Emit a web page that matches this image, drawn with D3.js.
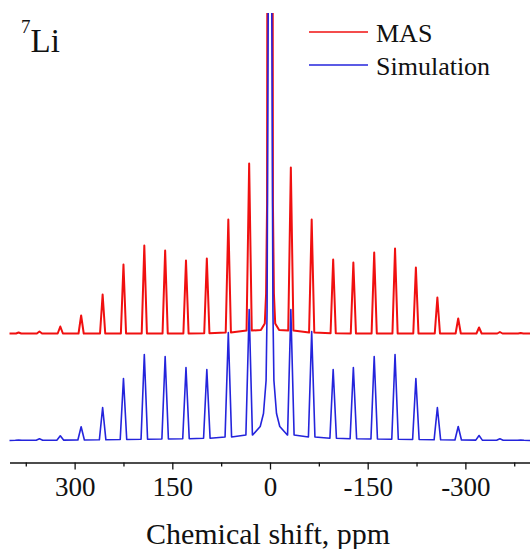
<!DOCTYPE html>
<html>
<head>
<meta charset="utf-8">
<script src="https://cdn.jsdelivr.net/npm/d3@7"></script>
<style>
  body { margin: 0; background: #fff; }
  text { font-family: "Liberation Serif", "Times New Roman", serif; fill: #111; }
</style>
</head>
<body>
<svg id="chart" width="530" height="549"></svg>
<script>
// sideband positions (ppm), centre line handled separately
const shifts = [386, 354, 322, 290, 257, 225, 193, 161, 129, 97, 64, 32,
                -32, -64, -97, -128, -160, -192, -224, -257, -289, -321, -353, -385];
const masPeak = [1, 2, 7, 18, 39, 69, 88, 83, 73, 75, 114, 170,
                 166, 114, 74, 71, 81, 85, 66, 36, 15, 6, 1.5, 0.5];
const masFoot = [0, 0, 0, 0, 0, 0, 0, 0, 0, 0.3, 1, 3,
                 3, 1, 0.3, 0, 0, 0, 0, 0, 0, 0, 0, 0];
const simPeak = [0.5, 1.7, 4.7, 13.7, 33, 62, 86, 84, 73, 71, 108, 131,
                 131, 109, 71, 73, 84, 86, 62, 33, 14, 5, 1.7, 0.5];
const simFoot = [0.2, 0.3, 0.4, 0.5, 0.7, 1, 1.3, 1.5, 1.8, 2.3, 3.5, 5.5,
                 5.5, 3.5, 2.3, 1.8, 1.5, 1.3, 1, 0.7, 0.5, 0.4, 0.3, 0.2];
// centre line (ppm, intensity)
const masCenter = [[14, 3.5], [8, 10], [6, 40], [4.5, 130], [3.5, 700],
                   [-3.5, 700], [-4.5, 130], [-6, 40], [-8, 10], [-14, 3.5]];
const simCenter = [[26, 6], [15, 14], [10, 27], [6, 60], [4.5, 130], [0, 900],
                   [-4.5, 130], [-6, 60], [-10, 27], [-15, 14], [-26, 6]];
const masOffset = 107;
const majorTicks = [300, 150, 0, -150, -300];
const minorTicks = [375, 225, 75, -75, -225, -375];
const legendNames = ["MAS", "Simulation"];

const svg = d3.select("#chart");
const x = d3.scaleLinear().domain([400, -400]).range([9.5, 530.5]);
const y = d3.scaleLinear().domain([-22, 428]).range([462.5, 12.5]);

svg.append("clipPath").attr("id", "clip")
    .append("rect").attr("x", 0).attr("y", 13).attr("width", 530).attr("height", 450);

const buildPts = (peaks, feet, center, w) => {
    let pts = [[400, 0], [-400, 0]];
    shifts.forEach((s, i) => {
        pts.push([s + w, feet[i]], [s, peaks[i]], [s - w, feet[i]]);
    });
    center.forEach(p => pts.push(p));
    pts.sort((a, b) => b[0] - a[0]);
    return pts;
};

const line = d3.line().x(d => x(d[0])).y(d => y(d[1]));

const g = svg.append("g").attr("clip-path", "url(#clip)");

g.append("path")
    .datum(buildPts(masPeak, masFoot, masCenter, 4).map(d => [d[0], d[1] + masOffset]))
    .attr("fill", "none")
    .attr("stroke", "#f01010")
    .attr("stroke-width", 2)
    .attr("stroke-linejoin", "round")
    .attr("d", line);

g.append("path")
    .datum(buildPts(simPeak, simFoot, simCenter, 5))
    .attr("fill", "none")
    .attr("stroke", "#2424dc")
    .attr("stroke-width", 1.6)
    .attr("stroke-linejoin", "round")
    .attr("d", line);

// x axis
const axisY = y(-22);
const ax = svg.append("g").attr("transform", `translate(0,${axisY})`)
    .call(d3.axisBottom(x).tickValues(majorTicks).tickSize(7).tickSizeOuter(0)
        .tickFormat(d => String(d)));
ax.select(".domain").attr("stroke", "#111").attr("stroke-width", 1.3);
ax.selectAll(".tick line").attr("stroke", "#111").attr("stroke-width", 1.3);
ax.selectAll(".tick text")
    .attr("y", 14)
    .attr("dy", "0.71em")
    .style("font-family", "'Liberation Serif', 'Times New Roman', serif")
    .style("font-size", "27px")
    .attr("fill", "#111");

svg.append("g").attr("transform", `translate(0,${axisY})`)
    .call(d3.axisBottom(x).tickValues(minorTicks).tickSize(4).tickSizeOuter(0).tickFormat(""))
    .call(a => a.select(".domain").remove())
    .selectAll(".tick line").attr("stroke", "#111").attr("stroke-width", 1.3);

svg.append("text")
    .attr("x", 268).attr("y", 544)
    .attr("text-anchor", "middle")
    .style("font-size", "30px")
    .text("Chemical shift, ppm");

// nucleus label
const lbl = svg.append("text").attr("x", 21).attr("y", 52).style("font-size", "33px");
lbl.append("tspan").attr("dy", -19).style("font-size", "19px").text("7");
lbl.append("tspan").attr("dy", 19).text("Li");

// legend
const legColors = ["#f01010", "#2424dc"];
legendNames.forEach((name, i) => {
    const ly = 32 + i * 33;
    svg.append("line")
        .attr("x1", 309).attr("x2", 368)
        .attr("y1", ly).attr("y2", ly)
        .attr("stroke", legColors[i]).attr("stroke-width", 1.6);
    svg.append("text")
        .attr("x", 376).attr("y", ly + 9.5)
        .style("font-size", "26px")
        .text(name);
});
</script>
</body>
</html>
